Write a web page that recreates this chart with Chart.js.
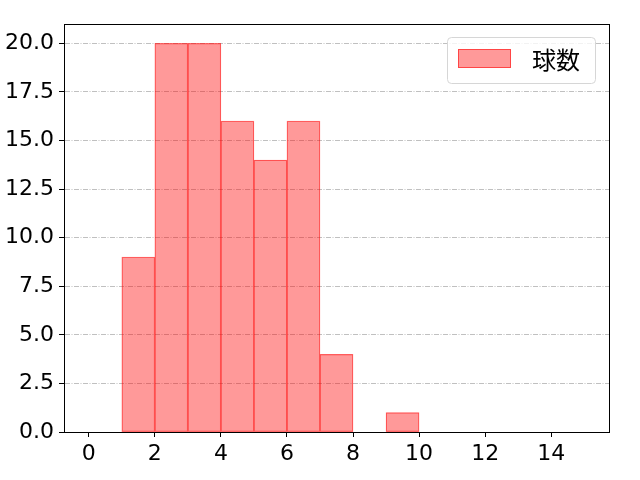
<!DOCTYPE html>
<html>
<head>
<meta charset="utf-8">
<script src="https://cdn.jsdelivr.net/npm/chart.js@4"></script>
<style>
  html, body { margin: 0; padding: 0; background: #fff; }
  #wrap { width: 640px; height: 480px; }
</style>
</head>
<body>
<div id="wrap"><canvas id="chart" width="640" height="480"></canvas></div>
<script>
// ── Data ────────────────────────────────────────────────────────────────────
const binEdges  = [0, 1, 2, 3, 4, 5, 6, 7, 8, 9, 10, 11, 12, 13, 14, 15];
const counts    = [0, 9, 20, 20, 16, 14, 16, 4, 0, 1, 0, 0, 0, 0, 0];
const xTicks    = [0, 2, 4, 6, 8, 10, 12, 14];
const yTicks    = [0, 2.5, 5, 7.5, 10, 12.5, 15, 17.5, 20];
const seriesLabel = "球数";

const TICK_FONT = "'DejaVu Sans', sans-serif";
const CJK_FONT  = "'Noto Sans CJK JP', 'Noto Sans', sans-serif";

// bar centres: middle of each bin, empty bins left out
const points = counts.map((c, i) => ({
  x: (binEdges[i] + binEdges[i + 1]) / 2,
  y: c > 0 ? c : null,
}));

// ── Plugin: closed axes box + matplotlib-like legend inside the plot ───────
const frameAndLegend = {
  id: "frameAndLegend",
  afterDraw(chart) {
    const { ctx, chartArea: a } = chart;
    ctx.save();
    ctx.strokeStyle = "#000";
    ctx.lineWidth = 1;
    ctx.strokeRect(a.left + 0.5, a.top + 0.5, a.right - a.left, a.bottom - a.top);

    // legend frame
    const ds = chart.data.datasets[0];
    const bx = 447, by = 37, bw = 148, bh = 46, r = 4;
    ctx.beginPath();
    ctx.roundRect(bx + 0.5, by + 0.5, bw, bh, r);
    ctx.fillStyle = "rgba(255,255,255,0.8)";
    ctx.fill();
    ctx.strokeStyle = "#d6d6d6";
    ctx.stroke();

    // handle
    ctx.fillStyle = ds.backgroundColor;
    ctx.fillRect(458, 49, 53, 19);
    ctx.strokeStyle = ds.borderColor;
    ctx.strokeRect(458.5, 49.5, 52, 18);

    // label
    ctx.fillStyle = "#000";
    ctx.font = "24px " + CJK_FONT;
    ctx.textBaseline = "middle";
    ctx.textAlign = "left";
    ctx.fillText(ds.label, 532, 60);
    ctx.restore();
  },
};

new Chart(document.getElementById("chart"), {
  type: "bar",
  data: {
    datasets: [{
      label: seriesLabel,
      data: points,
      backgroundColor: "rgba(255,0,0,0.4)",
      borderColor: "rgba(255,0,0,0.55)",
      borderWidth: 0.6,
      borderSkipped: false,
      barPercentage: 1,
      categoryPercentage: 1,
    }],
  },
  options: {
    responsive: false,
    animation: false,
    layout: { padding: { top: 24, right: 31, left: 0, bottom: 0 } },
    plugins: { legend: { display: false }, tooltip: { enabled: false } },
    scales: {
      x: {
        type: "linear",
        min: -0.75,
        max: 15.75,
        offset: false,
        afterBuildTicks: (s) => { s.ticks = xTicks.map(v => ({ value: v })); },
        afterFit: (s) => { s.height = 48; },
        ticks: { color: "#000", font: { family: TICK_FONT, size: 22 }, padding: 4, maxRotation: 0 },
        grid: { offset: false, drawOnChartArea: false, drawTicks: true, tickLength: 5, tickColor: "#000" },
        border: { color: "#000", width: 1 },
      },
      y: {
        min: 0,
        max: 21,
        afterBuildTicks: (s) => { s.ticks = yTicks.map(v => ({ value: v })); },
        afterFit: (s) => { s.width = 64; },
        ticks: {
          color: "#000",
          font: { family: TICK_FONT, size: 22 },
          padding: 5,
          callback: (v) => Number(v).toFixed(1),
        },
        grid: {
          color: "#b0b0b0",
          lineWidth: 0.8,
          tickLength: 5,
          tickColor: "#000",
          tickBorderDash: [],
          tickWidth: 1,
        },
        border: { color: "#000", width: 1, dash: [5, 1.5, 1, 1.5] },
      },
    },
  },
  plugins: [frameAndLegend],
});
</script>
</body>
</html>
